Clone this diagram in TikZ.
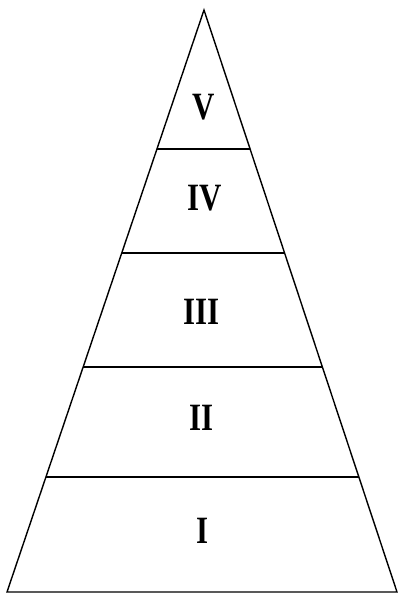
\documentclass[tikz,border=0pt]{standalone}
\usepackage{fontspec}
\setmainfont{Liberation Serif}
\usetikzlibrary{calc}
\tikzset{
    tier/.style={font=\fontsize{22}{22}\selectfont\bfseries, inner sep=0pt, xscale=0.8},
    tierline/.style={line width=1.1pt}
}

\begin{document}
\begin{tikzpicture}[x=0.02cm, y=-0.02cm, line width=0.8pt]

    \useasboundingbox (0, 0) rectangle (399, 599);

    % Outline of the pyramid
    \coordinate (apex) at (204, 10);
    \coordinate (bl) at (7, 592);
    \coordinate (br) at (397, 592);
    \draw (bl) -- (apex) -- (br) -- cycle;

    % Dividing lines between the tiers
    \foreach \t/\n in {0.2388/a, 0.4175/b, 0.6134/c, 0.8024/d} {
        \coordinate (l\n) at ($(apex)!\t!(bl)$);
        \coordinate (r\n) at ($(apex)!\t!(br)$);
        \draw[tierline] (l\n) -- (r\n);
    }

    % Tier labels
    \node[tier] (tV) at (203.5, 107.5) {V};
    \node[tier] (tIV) at (204.5, 198) {IV};
    \node[tier] (tIII) at (201.5, 311.5) {III};
    \node[tier] (tII) at (202, 417.5) {II};
    \node[tier] (tI) at (203, 530.5) {I};
\end{tikzpicture}
\end{document}
